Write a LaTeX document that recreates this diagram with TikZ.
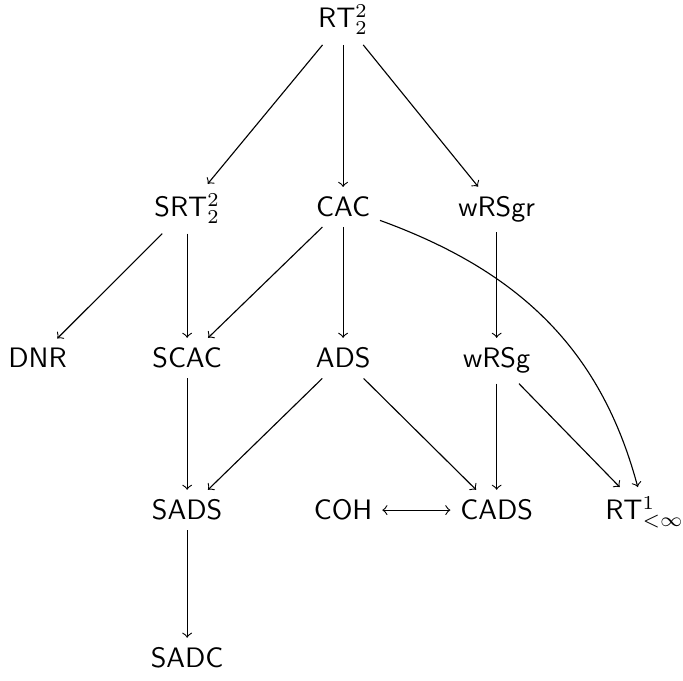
\documentclass[tikz,border=0pt]{standalone}
\usepackage{tikz}
\usetikzlibrary{positioning}

\begin{document}
\begin{tikzpicture}[lbl/.style={font=\sffamily, anchor=base}]
    \useasboundingbox (-4.29,0.35) rectangle (4.25,-8.16);

    \node[lbl] (rt) at (0,0) {RT$^2_2$};
    \node[below=2.36cm of rt.base, lbl] (cac) {CAC};
    \node[left=1.95cm of cac.base, lbl] (srt) {SRT$^2_2$};
    \node[right=1.92cm of cac.base, lbl] (wrsgr) {wRSgr};

    \node[below=1.89cm of cac.base, lbl] (ads) {ADS};
    \node[below=1.89cm of srt.base, lbl] (scac) {SCAC};
    \node[left=1.87cm of scac.base, lbl] (dnr) {DNR};
    \node[below=1.89cm of wrsgr.base, lbl] (wrsg) {wRSg};

    \node[below=1.9cm of scac.base, lbl] (sads) {SADS};
    \node[below=1.9cm of ads.base, lbl] (coh) {COH};
    \node[below=1.9cm of wrsg.base, lbl] (cads) {CADS};
    \node[right=1.85cm of cads.base, lbl] (rt1) {RT$^1_{<\infty}$};

    \node[below=1.85cm of sads.base, lbl] (sadc) {SADC};

    \draw[->] (rt) -- (srt);
    \draw[->] (rt) -- (cac);
    \draw[->] (rt) -- (wrsgr);
    \draw[->] (srt) -- (dnr);
    \draw[->] (srt) -- (scac);
    \draw[->] (cac) -- (scac);
    \draw[->] (cac) -- (ads);
    \draw[->] (cac) to[out=-20, in=105] (rt1);
    \draw[->] (wrsgr) -- (wrsg);
    \draw[->] (scac) -- (sads);
    \draw[->] (ads) -- (sads);
    \draw[->] (ads) -- (cads);
    \draw[->] (wrsg) -- (cads);
    \draw[->] (wrsg) -- (rt1);
    \draw[->] (sads) -- (sadc);
    \draw[<->] (coh) -- (cads);
\end{tikzpicture}
\end{document}
